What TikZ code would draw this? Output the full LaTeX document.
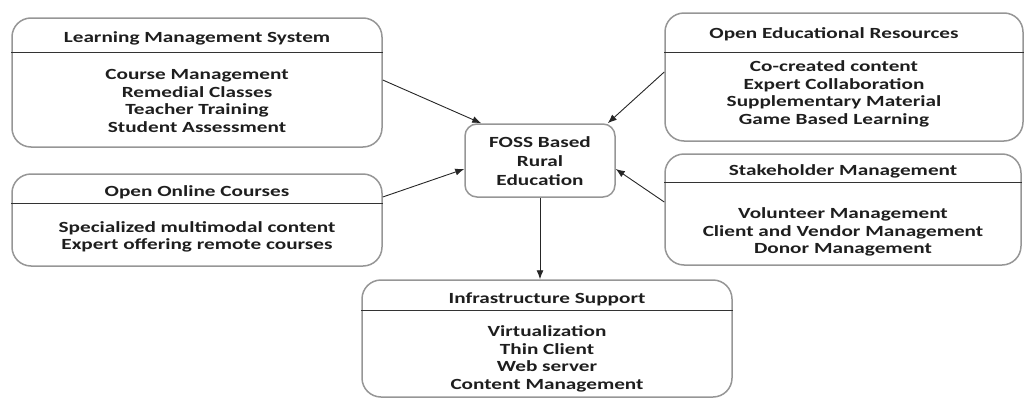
\documentclass[tikz,border=0pt]{standalone}
\usepackage{fontspec}
\setmainfont[FakeStretch=1.37]{Carlito}
\usetikzlibrary{arrows.meta}
\definecolor{boxgray}{RGB}{150,150,150}
\definecolor{txt}{RGB}{30,30,30}
\tikzset{
  box/.style={draw=boxgray, line width=1.5pt, rounded corners=19pt, rectangle, inner sep=0pt},
  fossbox/.style={draw=boxgray, line width=1.5pt, rounded corners=12pt, rectangle, inner sep=0pt},
  hdr/.style={draw=black!80, line width=0.9pt},
  ttl/.style={font=\fontsize{15.5}{17.5}\selectfont\bfseries, text=txt, inner sep=0pt},
  body/.style={font=\fontsize{15.5}{17.5}\selectfont\bfseries, text=txt, align=center, inner sep=0pt},
  arr/.style={draw=black!85, line width=0.9pt, -{Latex[length=9pt,width=7pt]}}
}
\begin{document}
\begin{tikzpicture}[x=1pt,y=-1pt]
\useasboundingbox (0,0) rectangle (1026,399);
% boxes
\node[box, minimum width=370pt, minimum height=129pt] (lms) at (197,82.5) {};
\node[box, minimum width=358pt, minimum height=128pt] (oer) at (844,77) {};
\node[box, minimum width=370pt, minimum height=92pt] (ooc) at (197,220) {};
\node[box, minimum width=356pt, minimum height=111pt] (sh) at (843,209.5) {};
\node[fossbox, minimum width=150pt, minimum height=73pt] (foss) at (540,160.5) {};
\node[box, minimum width=370pt, minimum height=117pt] (infra) at (547,338.5) {};
% header lines
\draw[hdr] (lms.west |- 0,52) -- (lms.east |- 0,52);
\draw[hdr] (oer.west |- 0,52) -- (oer.east |- 0,52);
\draw[hdr] (ooc.west |- 0,203) -- (ooc.east |- 0,203);
\draw[hdr] (sh.west |- 0,182) -- (sh.east |- 0,182);
\draw[hdr] (infra.west |- 0,310) -- (infra.east |- 0,310);
% titles
\node[ttl] (lmst) at (197,38) {Learning Management System};
\node[ttl] (oert) at (834,34) {Open Educational Resources};
\node[ttl] (ooct) at (197,192) {Open Online Courses};
\node[ttl] (sht) at (843,171) {Stakeholder Management};
\node[ttl] (infrat) at (547,299) {Infrastructure Support};
% bodies
\node[body] (lmsb) at (197,101) {Course Management\\Remedial Classes\\Teacher Training\\Student Assessment};
\node[body] (oerb) at (834,94) {Co-created content\\Expert Collaboration\\Supplementary Material\\Game Based Learning};
\node[body] (oocb) at (197,237) {Specialized multimodal content\\Expert offering remote courses};
\node[body] (shb) at (843,232) {Volunteer Management\\Client and Vendor Management\\Donor Management};
\node[body, font=\fontsize{15.5}{19}\selectfont\bfseries] (fosst) at (540,161) {FOSS Based\\Rural\\Education};
\node[body] (infrab) at (547,359) {Virtualization\\Thin Client\\Web server\\Content Management};
% arrows
\draw[arr] ([yshift=2.5pt]lms.east) -- ([xshift=17pt]foss.north west);
\draw[arr] ([yshift=23pt]ooc.east) -- ([yshift=-8.5pt]foss.west);
\draw[arr] ([yshift=5pt]oer.west) -- ([xshift=-8pt]foss.north east);
\draw[arr] ([yshift=7.5pt]sh.west) -- ([yshift=-8.5pt]foss.east);
\draw[arr] (foss.south) -- (foss.south |- infra.north);
\end{tikzpicture}
\end{document}
